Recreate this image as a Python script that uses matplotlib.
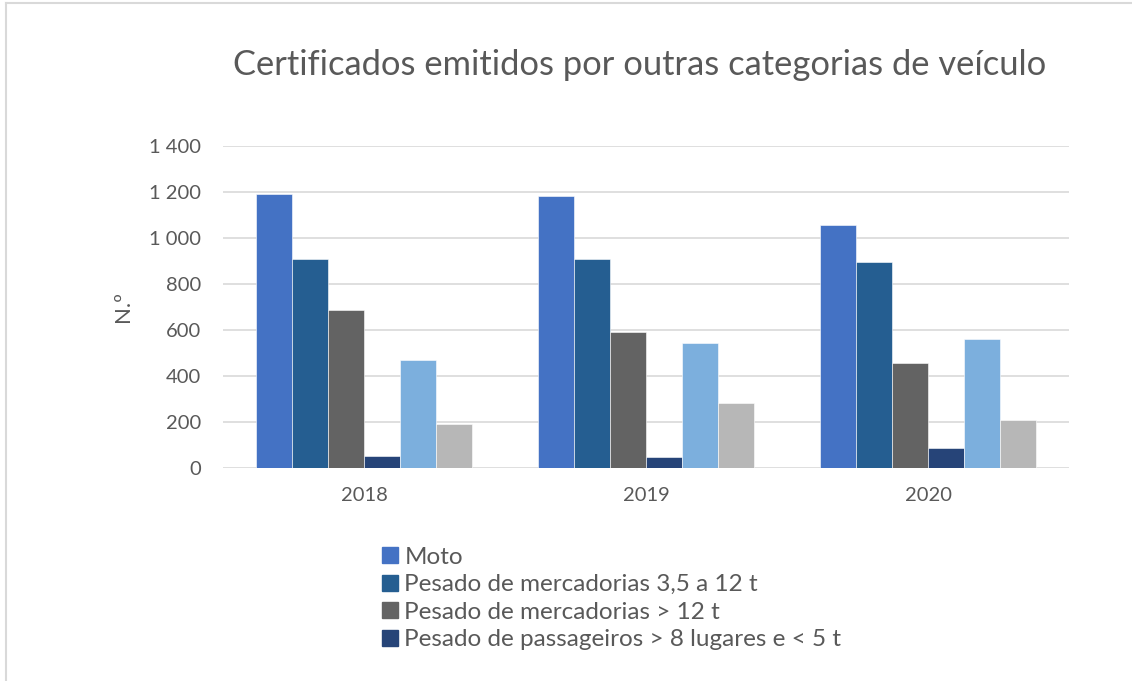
import matplotlib.pyplot as plt
import numpy as np
from matplotlib.lines import Line2D

# dados
anos = ['2018', '2019', '2020']
moto = [1190, 1181, 1057]
merc_35_12 = [907, 907, 896]
merc_12 = [686, 590, 458]
pass_8_5 = [51, 48, 87]
serie_5 = [470, 543, 560]
serie_6 = [191, 284, 209]

series = [moto, merc_35_12, merc_12, pass_8_5, serie_5, serie_6]
cores = ['#4472C4', '#255E91', '#636363', '#264478', '#7CAFDD', '#B7B7B7']
legenda = ['Moto',
           'Pesado de mercadorias 3,5 a 12 t',
           'Pesado de mercadorias > 12 t',
           'Pesado de passageiros > 8 lugares e < 5 t']
yticks = [0, 200, 400, 600, 800, 1000, 1200, 1400]
ytick_labels = ['0', '200', '400', '600', '800', '1 000', '1 200', '1 400']

plt.rcParams['font.family'] = ['Lato', 'DejaVu Sans']
txt = '#595959'

fig = plt.figure(figsize=(11.32, 6.81), dpi=100)
ax = fig.add_axes([223 / 1132, 1 - 468 / 681, 846 / 1132, 322 / 681])

x = np.arange(len(anos))
w = 36 / 282
for i, (vals, cor) in enumerate(zip(series, cores)):
    ax.bar(x + (i - 2.5) * w, vals, w, color=cor, edgecolor='white',
           linewidth=0.4, zorder=3)

ax.set_xlim(-0.5, 2.5)
ax.set_ylim(0, 1400)
ax.set_yticks(yticks)
ax.set_yticklabels(ytick_labels)
ax.set_xticks(x)
ax.set_xticklabels(anos)
ax.grid(axis='y', color='#D9D9D9', linewidth=1.2, zorder=0)
for s in ax.spines.values():
    s.set_visible(False)
ax.tick_params(length=0, labelsize=14.5, colors=txt)
ax.tick_params(axis='y', pad=16)
ax.tick_params(axis='x', pad=14)
ax.set_ylabel('N.º', fontsize=16, color=txt)
ax.yaxis.set_label_coords((133 - 223) / 846, 0.50)

fig.text(640 / 1132, 1 - 65 / 681,
         'Certificados emitidos por outras categorias de veículo',
         ha='center', va='center', fontsize=24.8, color=txt)

handles = [Line2D([], [], marker='s', linestyle='none', markersize=12,
                  markerfacecolor=c, markeredgecolor=c) for c in cores[:4]]
fig.legend(handles, legenda, loc='upper left',
           bbox_to_anchor=(368 / 1132, 1 - 537 / 681), frameon=False,
           fontsize=17.5, labelcolor=txt, handletextpad=0.1,
           labelspacing=0.27, handlelength=1.0, borderaxespad=0)

# moldura do gráfico
fig.add_artist(Line2D([5.5 / 1132, 5.5 / 1132], [0, 1 - 3 / 681],
                      transform=fig.transFigure, color='#D9D9D9', lw=1.5))
fig.add_artist(Line2D([5.5 / 1132, 1], [1 - 3 / 681, 1 - 3 / 681],
                      transform=fig.transFigure, color='#D9D9D9', lw=1.5))

fig.savefig('out.png', dpi=100)
